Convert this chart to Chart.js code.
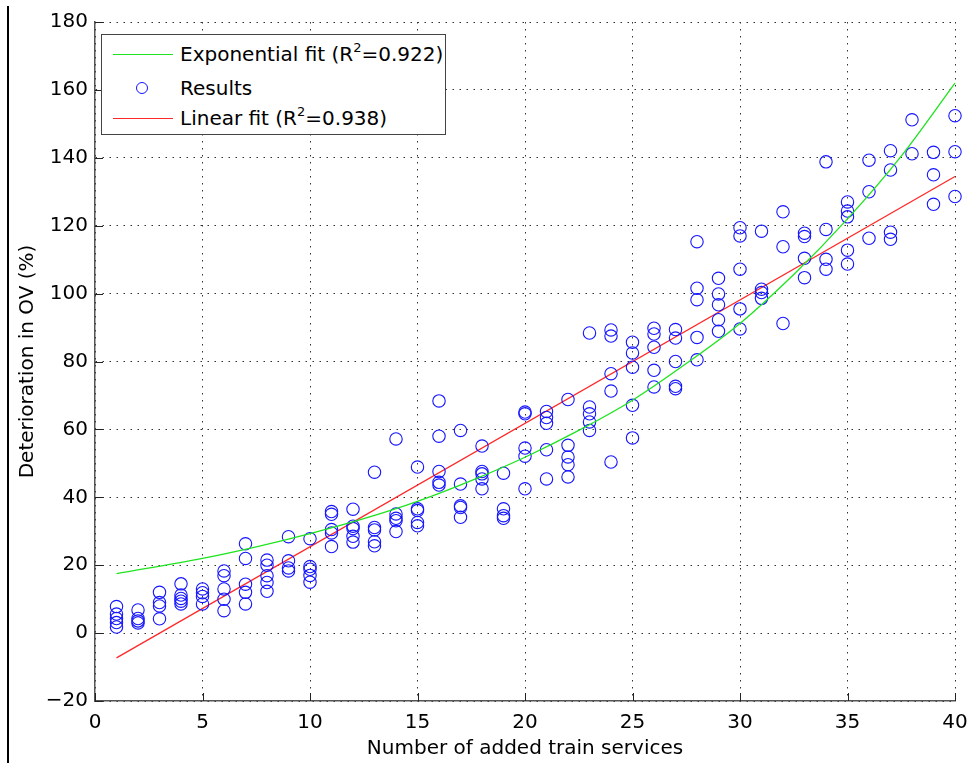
<!DOCTYPE html>
<html>
<head>
<meta charset="utf-8">
<script src="https://cdn.jsdelivr.net/npm/chart.js@4.4.1/dist/chart.umd.min.js"></script>
<style>
  html, body { margin: 0; padding: 0; background: #fff; }
  #wrap { position: relative; width: 970px; height: 763px; overflow: hidden; }
  #pageLine { position: absolute; left: 7px; top: 6px; width: 2px; height: 757px; background: #000; }
  #legend { position: absolute; left: 101px; top: 34px; width: 345px; height: 101px;
            border: 1px solid #444; background: #fff; font-family: "DejaVu Sans", sans-serif;
            font-size: 20px; color: #000; box-sizing: border-box; }
  .row { position: absolute; left: 0; height: 30px; width: 100%; }
  .row .txt { position: absolute; left: 78px; top: 0; line-height: 30px; white-space: nowrap; }
  .row .sample { position: absolute; left: 11px; width: 60px; top: 15px; height: 0; border-top: 1.3px solid; }
  .row .mark { position: absolute; left: 34px; top: 9px; width: 12px; height: 12px; border: 1.2px solid; border-radius: 50%; box-sizing: border-box; }
  sup { font-size: 13px; line-height: 0; vertical-align: 9px; }
</style>
</head>
<body>
<div id="wrap">
  <canvas id="c" width="970" height="763"></canvas>
  <div id="pageLine"></div>
  <div id="legend"></div>
</div>
<script>
// ---- data ----
const services = [1,2,3,4,5,6,7,8,9,10,11,12,13,14,15,16,17,18,19,20,21,22,23,24,25,26,27,28,29,30,31,32,33,34,35,36,37,38,39,40];
const deterioration = [
  [7.8, 5.6, 4.3, 3.1, 1.8],
  [6.8, 4.3, 3.6, 3.0],
  [12.0, 9.0, 8.0, 4.2],
  [14.5, 11.2, 10.2, 9.4, 8.6],
  [13.0, 11.9, 10.8, 8.6],
  [18.3, 16.9, 13.0, 10.0, 6.6],
  [26.3, 22.0, 14.4, 12.0, 8.6],
  [21.5, 20.0, 16.9, 14.9, 12.3],
  [28.4, 21.3, 19.2, 18.3],
  [27.8, 19.6, 18.8, 17.0, 15.0],
  [35.8, 35.0, 30.5, 29.5, 25.5],
  [36.5, 31.5, 30.8, 28.5, 26.8],
  [47.4, 31.1, 30.4, 26.9, 25.7],
  [57.2, 35.1, 33.8, 33.1, 29.9],
  [48.9, 36.6, 36.1, 32.6, 31.6],
  [68.4, 58.0, 47.6, 44.4, 43.6],
  [59.7, 43.9, 37.5, 37.0, 34.1],
  [55.1, 47.6, 46.9, 45.4, 42.5],
  [47.1, 36.6, 34.6, 33.8],
  [65.1, 64.6, 54.5, 52.1, 42.5],
  [65.3, 63.5, 61.8, 54.0, 45.4],
  [68.8, 55.3, 51.9, 49.6, 46.0],
  [88.4, 66.6, 64.6, 62.2, 59.7],
  [89.3, 87.5, 76.4, 71.3, 50.4],
  [85.7, 82.5, 78.3, 67.1, 57.5],
  [89.8, 88.1, 84.2, 77.4, 72.5],
  [89.4, 86.9, 80.0, 72.7, 72.0],
  [115.3, 101.6, 98.2, 87.1, 80.5],
  [104.5, 99.9, 96.7, 92.3, 88.9],
  [119.4, 117.0, 107.2, 95.5, 89.6],
  [118.4, 101.3, 100.3, 98.6],
  [124.1, 113.8, 91.2],
  [117.8, 116.8, 110.4, 104.7],
  [138.8, 118.9, 110.1, 107.2],
  [127.0, 124.3, 122.6, 112.8, 108.7],
  [139.3, 130.0, 116.3],
  [142.1, 136.4, 118.1, 116.0],
  [151.2, 141.2],
  [141.6, 135.0, 126.3],
  [152.4, 141.8, 128.6]
];
const expFitX = [1, 5, 7.5, 10, 12.5, 15, 17.5, 20, 22.5, 25, 27.5, 30, 32.5, 35, 37.5, 40];
const expFitY = [17.5, 22.0, 25.4, 29.3, 33.7, 38.8, 44.9, 51.8, 59.7, 68.6, 79.4, 91.2, 105.6, 122.0, 140.5, 162.0];
const linFitX = [1, 40];
const linFitY = [-7.3, 134.5];
const seriesNames = ['Exponential fit (R²=0.922)', 'Results', 'Linear fit (R²=0.938)'];
const xTickValues = [0, 5, 10, 15, 20, 25, 30, 35, 40];
const yTickLabels = ['\u221220', '0', '20', '40', '60', '80', '100', '120', '140', '160', '180'];
const xTitle = 'Number of added train services';
const yTitle = 'Deterioration in OV (%)';

// ---- build chart ----
const resultPoints = [];
services.forEach((s, i) => deterioration[i].forEach(v => resultPoints.push({x: s, y: v})));
const expPoints = expFitX.map((x, i) => ({x, y: expFitY[i]}));
const linPoints = linFitX.map((x, i) => ({x, y: linFitY[i]}));

const GREEN = 'rgb(30,228,30)';
const BLUE = 'rgb(20,20,255)';
const RED = 'rgb(255,40,40)';
const FONT = '"DejaVu Sans", sans-serif';

const inwardTicks = {
  id: 'inwardTicks',
  afterDraw(chart) {
    const {ctx, chartArea, scales} = chart;
    ctx.save();
    ctx.strokeStyle = '#222';
    ctx.lineWidth = 1;
    ctx.beginPath();
    scales.x.ticks.forEach(t => {
      const px = Math.round(scales.x.getPixelForValue(t.value)) + 0.5;
      ctx.moveTo(px, chartArea.bottom);
      ctx.lineTo(px, chartArea.bottom - 8);
    });
    scales.y.ticks.forEach(t => {
      const py = Math.round(scales.y.getPixelForValue(t.value)) + 0.5;
      ctx.moveTo(chartArea.left, py);
      ctx.lineTo(chartArea.left + 8, py);
    });
    ctx.stroke();
    ctx.restore();
  }
};

const chart = new Chart(document.getElementById('c'), {
  type: 'scatter',
  data: {
    datasets: [
      { label: seriesNames[0], data: expPoints, showLine: true, borderColor: GREEN, borderWidth: 1.3,
        pointRadius: 0, fill: false, cubicInterpolationMode: 'monotone', clip: false },
      { label: seriesNames[1], data: resultPoints, showLine: false, borderColor: BLUE,
        backgroundColor: 'rgba(0,0,0,0)', pointRadius: 6.2, pointBorderWidth: 1.1, pointStyle: 'circle', clip: false },
      { label: seriesNames[2], data: linPoints, showLine: true, borderColor: RED, borderWidth: 1.3,
        pointRadius: 0, fill: false, clip: false }
    ]
  },
  options: {
    responsive: false,
    animation: false,
    events: [],
    layout: { padding: { top: 22, right: 15, left: 12, bottom: 0 } },
    plugins: { legend: { display: false }, tooltip: { enabled: false }, title: { display: false } },
    scales: {
      x: {
        type: 'linear', min: 0, max: 40,
        afterBuildTicks(scale) { scale.ticks = xTickValues.map(v => ({value: v})); },
        afterFit(scale) { scale.height = 62; scale.paddingLeft = 0; scale.paddingRight = 0; },
        ticks: { color: '#000', font: { family: FONT, size: 20 }, padding: 10, maxRotation: 0,
                 callback: v => String(v) },
        grid: { color: '#333', lineWidth: 1, drawTicks: false },
        border: { display: true, color: '#555', width: 1.5, dash: [1.5, 5.5] },
        title: { display: true, text: xTitle, color: '#000', font: { family: FONT, size: 20 },
                 padding: { top: 0, bottom: 2 } }
      },
      y: {
        type: 'linear', min: -20, max: 180,
        ticks: { stepSize: 20, color: '#000', font: { family: FONT, size: 20 }, padding: 7,
                 callback: (v, i) => yTickLabels[i] },
        afterFit(scale) { scale.width = 83; scale.paddingTop = 0; scale.paddingBottom = 0; },
        grid: { color: '#333', lineWidth: 1, drawTicks: false },
        border: { display: true, color: '#555', width: 1.5, dash: [1.5, 5.5] },
        title: { display: true, text: yTitle, color: '#000', font: { family: FONT, size: 20 },
                 padding: { top: 4, bottom: 0 } }
      }
    }
  },
  plugins: [inwardTicks]
});

// ---- legend (HTML, real text) ----
const legendEl = document.getElementById('legend');
const rowTops = [4, 38, 68];
chart.data.datasets.forEach((ds, i) => {
  const row = document.createElement('div');
  row.className = 'row';
  row.style.top = rowTops[i] + 'px';
  const sym = document.createElement('div');
  if (ds.showLine) { sym.className = 'sample'; sym.style.borderTopColor = ds.borderColor; }
  else { sym.className = 'mark'; sym.style.borderColor = ds.borderColor; }
  row.appendChild(sym);
  const txt = document.createElement('div');
  txt.className = 'txt';
  const parts = ds.label.split('²');
  txt.appendChild(document.createTextNode(parts[0]));
  if (parts.length > 1) {
    const sup = document.createElement('sup');
    sup.textContent = '2';
    txt.appendChild(sup);
    txt.appendChild(document.createTextNode(parts[1]));
  }
  row.appendChild(txt);
  legendEl.appendChild(row);
});
</script>
</body>
</html>
